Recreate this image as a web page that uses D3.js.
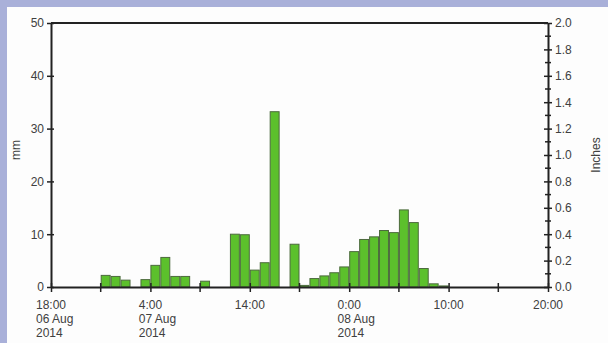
<!DOCTYPE html>
<html><head><meta charset="utf-8">
<script src="https://cdn.jsdelivr.net/npm/d3@7"></script>
<style>body{margin:0;background:#a9b0d9;}svg{display:block;}</style>
</head><body>
<script>
// Hourly rainfall (mm), hour index from 18:00 06 Aug 2014
const hourIndex = d3.range(0, 50);
const rainMM = [0,0,0,0,0,2.2,2.0,1.3,0,1.4,4.1,5.6,2.0,2.0,0,1.1,0,0,10.0,9.9,
                3.2,4.6,33.2,0,8.1,0.3,1.6,2.1,2.7,3.8,6.7,9.0,9.5,10.7,10.3,14.6,12.2,3.5,0.6,0.2,
                0,0,0,0,0,0,0,0,0,0];
const xTickHours = [0,10,20,30,40,50];
const xTickLabels = [["18:00","06 Aug","2014"],["4:00","07 Aug","2014"],["14:00"],["0:00","08 Aug","2014"],["10:00"],["20:00"]];
const mmTicks = [0,10,20,30,40,50];
const inchTicks = [0,0.2,0.4,0.6,0.8,1.0,1.2,1.4,1.6,1.8,2.0];

const W=608,H=343;
const svg=d3.select("body").append("svg").attr("width",W).attr("height",H);
svg.append("rect").attr("x",7).attr("y",7).attr("width",W-7).attr("height",H-7).attr("fill","#fdfdfd");

const L=51,R=548,T=23,B=287;
const x=d3.scaleLinear().domain([0,50]).range([L,R]);
const y=d3.scaleLinear().domain([0,50]).range([B,T]);
const yIn=d3.scaleLinear().domain([0,2]).range([B,T]);
const font="Liberation Sans, Arial, sans-serif";
const txt="#404040";

// bars
svg.append("g").selectAll("rect").data(hourIndex.filter(h=>rainMM[h]>0)).join("rect")
  .attr("x",h=>x(h)+0.5).attr("width",h=>x(h+1)-x(h)-1)
  .attr("y",h=>y(rainMM[h])).attr("height",h=>B-y(rainMM[h]))
  .attr("fill","#5cc02c").attr("stroke","#4d6a3e").attr("stroke-width",1);

// frame top line
svg.append("line").attr("x1",L).attr("x2",R).attr("y1",T).attr("y2",T).attr("stroke","#222").attr("stroke-width",2);

// left axis
const gl=svg.append("g").attr("transform",`translate(${L},0)`)
  .call(d3.axisLeft(y).tickValues(mmTicks).tickSize(5).tickSizeOuter(0).tickPadding(2));
gl.selectAll("line").attr("x2",-4).attr("x1",3).attr("stroke","#222").attr("stroke-width",1.5);
// right axis
const gr=svg.append("g").attr("transform",`translate(${R},0)`)
  .call(d3.axisRight(yIn).tickValues(inchTicks).tickFormat(d3.format(".1f")).tickSize(5).tickSizeOuter(0).tickPadding(2));
gr.selectAll("line").attr("x1",-4).attr("x2",4).attr("stroke","#222").attr("stroke-width",1.5);
svg.append("g").selectAll("line").data(d3.range(0.1,2,0.2)).join("line")
  .attr("x1",R-3).attr("x2",R+3).attr("y1",d=>yIn(d)).attr("y2",d=>yIn(d)).attr("stroke","#222").attr("stroke-width",1.5);
// bottom axis
const gb=svg.append("g").attr("transform",`translate(0,${B})`)
  .call(d3.axisBottom(x).tickValues(xTickHours).tickFormat("").tickSize(5).tickSizeOuter(0));
gb.selectAll("line").attr("y1",-4).attr("y2",5).attr("stroke","#222").attr("stroke-width",1.5);
svg.append("g").selectAll("line").data([5,15,25,35,45]).join("line")
  .attr("x1",d=>x(d)).attr("x2",d=>x(d)).attr("y1",B-4).attr("y2",B+5).attr("stroke","#222").attr("stroke-width",1.5);
[gl,gr,gb].forEach(g=>{g.select(".domain").attr("stroke","#222").attr("stroke-width",2);
  g.selectAll("text").attr("font-family",font).attr("font-size",12).attr("fill",txt);});

// x labels: first line centred on tick, following lines left-aligned with it
const xl=svg.append("g").selectAll("text").data(xTickHours).join("text")
  .attr("font-family",font).attr("font-size",12).attr("fill",txt);
xl.each(function(d,i){
  const t=d3.select(this);
  const first=t.append("tspan").attr("x",x(d)).attr("y",B+22).text(xTickLabels[i][0]);
  const w=first.node().getComputedTextLength();
  const x0=x(d)-w/2;
  first.attr("x",x0);
  xTickLabels[i].slice(1).forEach((s,j)=>t.append("tspan").attr("x",x0).attr("y",B+22+(j+1)*14).text(s));
});

// axis titles
svg.append("text").attr("transform",`translate(20,150) rotate(-90)`).attr("text-anchor","middle")
  .attr("font-family",font).attr("font-size",12).attr("fill",txt).text("mm");
svg.append("text").attr("transform",`translate(600,155) rotate(-90)`).attr("text-anchor","middle")
  .attr("font-family",font).attr("font-size",12).attr("fill",txt).text("Inches");
</script>
</body></html>
